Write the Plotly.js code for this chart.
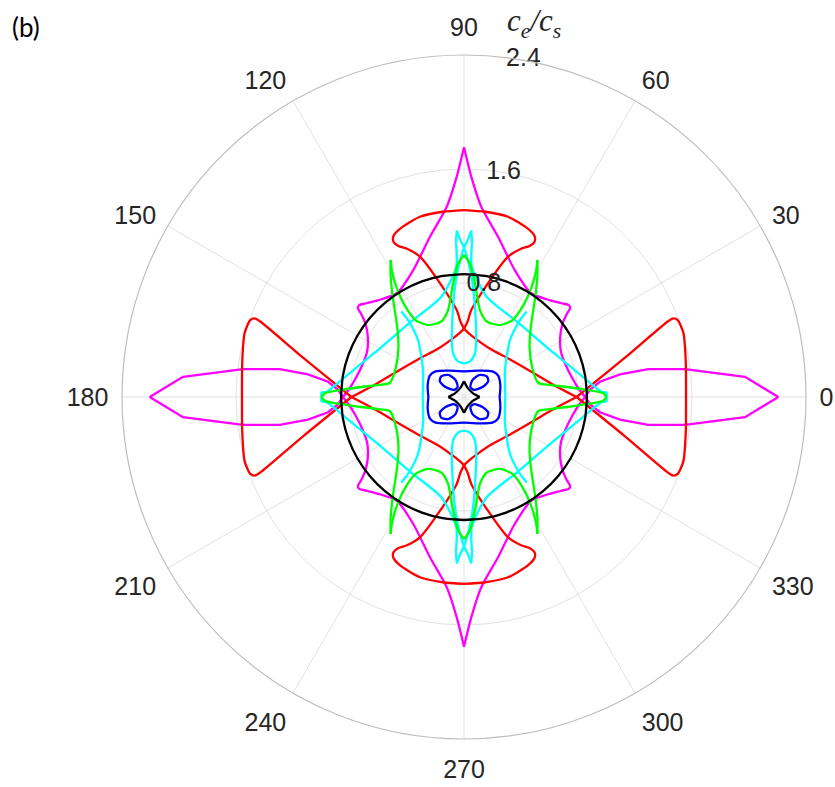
<!DOCTYPE html>
<html>
<head>
<meta charset="utf-8">
<script src="https://cdn.plot.ly/plotly-3.0.1.min.js"></script>
<style>html,body{margin:0;padding:0;background:#fff;}#chart{width:835px;height:787px;}</style>
</head>
<body>
<div id="chart"></div>
<script>
// First-quadrant samples (theta in degrees, r = c_e/c_s); segments separated by null.
// The curves are mirror-symmetric about the 0-180 and 90-270 axes.
const angleTicks = [0, 30, 60, 90, 120, 150, 180, 210, 240, 270, 300, 330];
const radialTicks = [0.8, 1.6, 2.4];
const radialTickAngle = 80;

const blackCircleTheta = [0, 10, 20, 30, 40, 50, 60, 70, 80, 90];
const blackCircleR = [0.863, 0.863, 0.863, 0.863, 0.863, 0.863, 0.863, 0.863, 0.863, 0.863];

const blackStarTheta = [0, 8, 20, 45, 70, 82, 90];
const blackStarR = [0.11, 0.088, 0.07, 0.062, 0.07, 0.088, 0.11];

const blueTheta = [0, 17.42, 32.0, 41.99, 61.6, 90, null,
  57.26, 63.43, 54.64, 42.18, 32.91, 28.3, 35.54, 57.26];
const blueR = [0.25, 0.2673, 0.283, 0.2691, 0.2103, 0.18, null,
  0.0832, 0.1342, 0.19, 0.2159, 0.2025, 0.1476, 0.086, 0.0832];

const cyanTheta = [90, 80.84, 75.96, 76.62, 81.37, 85.71, 88.19, 90, null,
  90, 88.45, 87.55, null,
  87.55, 87.09, 86.62, 77.27, 55.08, 30.1, 12.0, 2.2, 1.72, 0, null,
  0, 33.42, 51.07, 53.95, 53.75];
const cyanR = [0.236, 0.2512, 0.3092, 0.3629, 0.5462, 0.8022, 0.9505, 1.05, null,
  1.05, 1.1104, 1.1681, null,
  1.1681, 1.1014, 0.9166, 0.7217, 0.6464, 0.682, 0.8179, 0.9647, 1.0004, 1.0, null,
  0.29, 0.345, 0.5141, 0.6679, 0.744];

const greenTheta = [90, 87.43, 84.14, 79.6, 73.2, 63.39, 57.8, 57.13, 58.46, 60.15, 61.81, null,
  61.81, 58.79, 54.46, 46.77, 37.27, 22.62, 10.89, 8.06, 5.81, 3.33, 1.52, 0];
const greenR = [0.997, 0.9359, 0.7841, 0.6202, 0.5536, 0.5648, 0.6381, 0.7739, 0.9081, 1.0146, 1.0903, null,
  1.0903, 0.9938, 0.8602, 0.6862, 0.578, 0.52, 0.5295, 0.606, 0.7107, 0.8615, 0.9773, 1.0];

const redTheta = [0, 9.13, 16.29, 19.8, 20.6, 20.33, 13.73, 0, null,
  0, 8.26, 21.9, 39.63, 62.1, 78.96, 86.19, 90, null,
  90, 87.3, 85.22, 78.11, 72.58, 68.96, 66.54, 65.57, 66.35, 69.13, 76.27, 83.42, 90];
const redR = [1.558, 1.576, 1.604, 1.594, 1.569, 1.525, 1.163, 0.79, null,
  0.79, 0.6265, 0.4958, 0.4155, 0.3847, 0.4177, 0.451, 0.48, null,
  0.48, 0.5306, 0.6121, 0.8155, 1.0323, 1.1143, 1.1555, 1.1971, 1.2337, 1.2629, 1.3022, 1.3086, 1.312];

const magentaLobeTheta = [0, 4.12, 7.2, 8.62, 8.26, 6.4, 3.24, 0];
const magentaLobeR = [2.206, 1.9771, 1.5633, 1.3078, 1.1065, 0.96, 0.8854, 0.85];
const magentaSpikeTheta = [0, 4.65, 8.82, 16.26, 25.2, 31.89, 36.47, 38.85, 40.0, 41.27, 43.93, 48.58,
  57.04, 68.22, 78.01, 84.82, 88.15, 90];
const magentaSpikeR = [0.85, 0.8026, 0.7762, 0.75, 0.7515, 0.795, 0.858, 0.9246, 0.9725, 0.9779, 0.9484, 0.9069,
  0.8676, 0.9595, 1.1501, 1.3405, 1.5508, 1.752];

// Reflect a first-quadrant path into all four quadrants.
function mirror(theta, r) {
  const maps = [t => t, t => 180 - t, t => 180 + t, t => 360 - t];
  const T = [], R = [];
  maps.forEach((f, k) => {
    if (k > 0) { T.push(null); R.push(null); }
    theta.forEach((t, i) => { T.push(t === null ? null : f(t)); R.push(r[i]); });
  });
  return {theta: T, r: R};
}

function curve(theta, r, color, shape) {
  const m = mirror(theta, r);
  return {type: 'scatterpolar', mode: 'lines', theta: m.theta, r: m.r,
    connectgaps: false, hoverinfo: 'skip',
    line: {color: color, width: 2.3, shape: shape || 'linear', smoothing: 0.7}};
}

const data = [
  curve(magentaLobeTheta, magentaLobeR, '#ff00ff'),
  curve(magentaSpikeTheta, magentaSpikeR, '#ff00ff', 'spline'),
  curve(redTheta, redR, '#ff0000', 'spline'),
  curve(cyanTheta, cyanR, '#00ffff', 'spline'),
  curve(greenTheta, greenR, '#00ff00', 'spline'),
  curve(blueTheta, blueR, '#0000ff', 'spline'),
  curve(blackCircleTheta, blackCircleR, '#000000', 'spline'),
  curve(blackStarTheta, blackStarR, '#000000', 'spline'),
  {type: 'scatterpolar', mode: 'text', r: radialTicks, theta: radialTicks.map(() => radialTickAngle),
   text: radialTicks.map(v => v.toFixed(1)), textposition: 'middle center', cliponaxis: false,
   hoverinfo: 'skip', textfont: {family: '"Liberation Sans", Arial, sans-serif', size: 25, color: '#262626'}}
];

const layout = {
  width: 835, height: 787,
  margin: {l: 0, r: 0, t: 0, b: 0},
  paper_bgcolor: '#ffffff',
  showlegend: false,
  font: {family: '"Liberation Sans", Arial, sans-serif', size: 25, color: '#262626'},
  polar: {
    domain: {x: [0.1461, 0.9653], y: [0.0610, 0.9301]},
    bgcolor: '#ffffff',
    angularaxis: {
      rotation: 0, direction: 'counterclockwise',
      tickmode: 'array', tickvals: angleTicks, ticktext: angleTicks.map(String),
      showline: true, linecolor: '#bdbdbd', linewidth: 1.2,
      showgrid: true, gridcolor: '#e2e2e2', gridwidth: 1,
      ticks: 'outside', ticklen: 8, tickcolor: 'rgba(0,0,0,0)',
      tickfont: {size: 25, color: '#262626'}
    },
    radialaxis: {
      range: [0, 2.4], tickmode: 'array', tickvals: radialTicks,
      angle: radialTickAngle, showline: false, showticklabels: false,
      showgrid: true, gridcolor: '#e2e2e2', gridwidth: 1, ticks: ''
    }
  },
  annotations: [
    {text: '(b)', x: 0.012, y: 0.966, xref: 'paper', yref: 'paper', xanchor: 'left', yanchor: 'middle',
     showarrow: false, font: {family: 'Lato, "Open Sans", sans-serif', size: 26, color: '#000000'}},
    {text: '<i>c</i><sub><i>e</i></sub><i>/c</i><sub><i>s</i></sub>', x: 0.6395, y: 0.971, xref: 'paper', yref: 'paper',
     xanchor: 'center', yanchor: 'middle', showarrow: false,
     font: {family: '"Liberation Serif", "DejaVu Serif", serif', size: 31, color: '#262626'}}
  ]
};

Plotly.newPlot('chart', data, layout, {displayModeBar: false, staticPlot: true});
</script>
</body>
</html>
